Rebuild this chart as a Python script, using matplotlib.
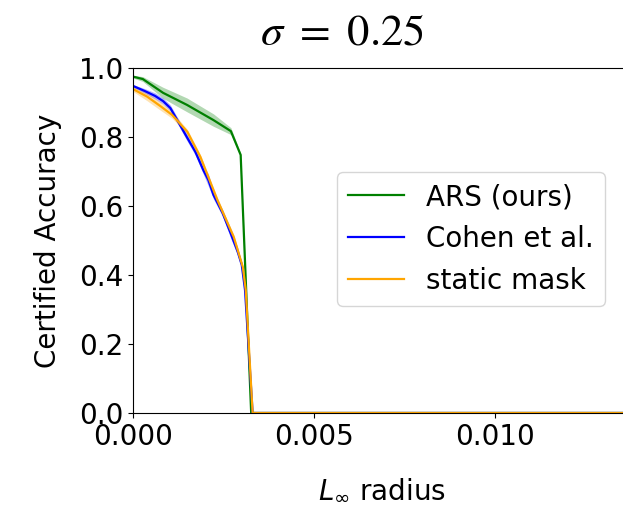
import matplotlib
matplotlib.use("Agg")
import matplotlib.pyplot as plt
import numpy as np

# certified accuracy vs L_inf radius
ars_radius = [0, 0.00027, 0.00083, 0.00149, 0.00222, 0.0027, 0.00297, 0.00326, 0.0140]
ars_acc = [0.975, 0.968, 0.928, 0.893, 0.849, 0.817, 0.748, 0.0, 0.0]
ars_err = [0.004, 0.007, 0.016, 0.020, 0.018, 0.010, 0.005, 0.0, 0.0]

cohen_radius = [0, 0.00033, 0.00061, 0.00083, 0.00103, 0.00122, 0.0015, 0.00172, 0.00194,
                0.00208, 0.00222, 0.00247, 0.00269, 0.00289, 0.0030, 0.00309, 0.0033, 0.0140]
cohen_acc = [0.948, 0.933, 0.919, 0.904, 0.884, 0.849, 0.797, 0.757, 0.704,
             0.675, 0.632, 0.580, 0.522, 0.467, 0.429, 0.357, 0.0, 0.0]
cohen_err = [0.004, 0.007, 0.009, 0.009, 0.009, 0.009, 0.010, 0.010, 0.012,
             0.018, 0.012, 0.010, 0.014, 0.012, 0.008, 0.005, 0.0, 0.0]

mask_radius = [0, 0.00039, 0.00075, 0.00108, 0.0015, 0.00186, 0.00233, 0.00278, 0.00303,
               0.00311, 0.0033, 0.0140]
mask_acc = [0.939, 0.917, 0.890, 0.864, 0.815, 0.742, 0.617, 0.510, 0.423, 0.357, 0.0, 0.0]
mask_err = [0.007, 0.012, 0.012, 0.010, 0.007, 0.007, 0.007, 0.007, 0.005, 0.004, 0.0, 0.0]

series = [
    ("ARS (ours)", "green", ars_radius, ars_acc, ars_err),
    ("Cohen et al.", "blue", cohen_radius, cohen_acc, cohen_err),
    ("static mask", "orange", mask_radius, mask_acc, mask_err),
]

fig = plt.figure(figsize=(6.23, 5.09), dpi=100)
ax = fig.add_axes([0.2135, 0.1886, 0.80, 0.6778])

for label, color, r, acc, err in series:
    r, acc, err = np.array(r), np.array(acc), np.array(err)
    ax.fill_between(r, acc - err, acc + err, color=color, alpha=0.3, linewidth=0)
    ax.plot(r, acc, color=color, linewidth=1.6, label=label)

ax.set_xlim(0, 0.01375)
ax.set_ylim(0, 1.0)
ax.set_xticks([0, 0.005, 0.010])
ax.set_xticklabels(["0.000", "0.005", "0.010"])
ax.set_yticks([0, 0.2, 0.4, 0.6, 0.8, 1.0])
ax.tick_params(labelsize=20)
ax.set_xlabel(r"$L_\infty$ radius", fontsize=20, labelpad=18)
ax.set_ylabel("Certified Accuracy", fontsize=20, labelpad=12)

fig.text(0.549, 0.937, r"$\sigma\ =\ 0.25$", fontsize=32, ha="center", va="center",
         math_fontfamily="stix")

ax.legend(loc="upper left", bbox_to_anchor=(337 / 623, 1 - 172 / 509),
          bbox_transform=fig.transFigure, borderaxespad=0, fontsize=20)

fig.savefig("out.png", dpi=100)
